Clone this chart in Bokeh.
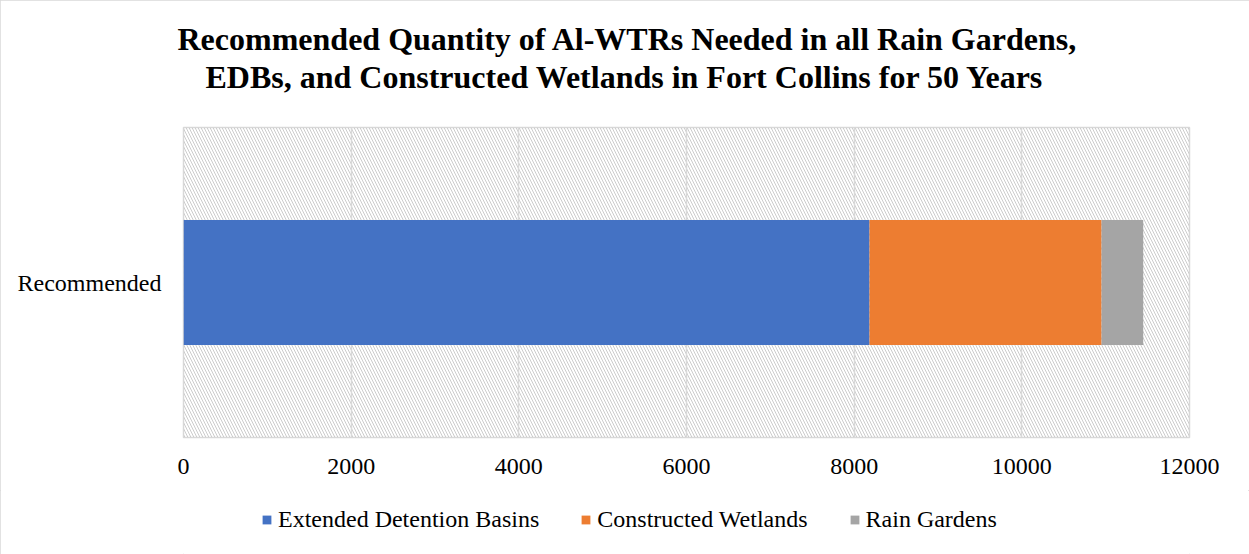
from bokeh.plotting import figure
from bokeh.layouts import column
from bokeh.models import (Range1d, FactorRange, FixedTicker, Legend, LegendItem,
                          BoxAnnotation, Title)
from bokeh.embed import file_html
from bokeh.resources import INLINE

# ---- data ----
categories = ["Recommended"]
series_names = ["Extended Detention Basins", "Constructed Wetlands", "Rain Gardens"]
edb = [8183]
wetlands = [2768]
rain_gardens = [497]
x_ticks = [0, 2000, 4000, 6000, 8000, 10000, 12000]
colors = ["#4472C4", "#ED7D31", "#A5A5A5"]
title_lines = ["Recommended Quantity of Al-WTRs Needed in all Rain Gardens,",
               "EDBs, and Constructed Wetlands in Fort Collins for 50 Years"]

SERIF = "Liberation Serif"
W, H = 1249, 554
H1 = 490                      # main chart height; legend strip below
FL, FR, FT, FB = 183, 1189, 127, 437  # frame edges in canvas px

data = dict(cat=categories, edb=edb, cw=wetlands, rg=rain_gardens)

p = figure(width=W, height=H1, output_backend="svg", toolbar_location=None, title=None,
           y_range=FactorRange(*categories), x_range=Range1d(0, 12000),
           min_border_left=FL, min_border_right=W - FR,
           min_border_top=FT, min_border_bottom=H1 - FB)
p.border_fill_color = "white"
p.background_fill_color = "white"
p.outline_line_color = "#d9d9d9"
p.outline_line_width = 1.5

# hatched plot area
hatch = BoxAnnotation(fill_alpha=0, line_alpha=0, level="image",
                      hatch_pattern="left_diagonal_line", hatch_color="#cccccc",
                      hatch_scale=6, hatch_weight=1)
p.add_layout(hatch)

rs = p.hbar_stack(["edb", "cw", "rg"], y="cat", height=0.403, color=colors,
                  line_color=None, source=data)

# grid
p.ygrid.grid_line_color = None
p.xgrid.grid_line_color = "#d9d9d9"
p.xgrid.grid_line_width = 1.5
p.xgrid.ticker = FixedTicker(ticks=x_ticks)

# axes
p.xaxis.ticker = FixedTicker(ticks=x_ticks)
for ax in (p.xaxis[0], p.yaxis[0]):
    ax.axis_line_color = None
    ax.major_tick_line_color = None
    ax.minor_tick_line_color = None
    ax.major_tick_out = 0
    ax.major_tick_in = 0
    ax.major_label_text_font = SERIF
    ax.major_label_text_font_size = "24px"
    ax.major_label_text_color = "#000000"
p.xaxis.major_label_standoff = 21
p.yaxis.major_label_standoff = 22

# title: spacer closest to frame, then line 2, then line 1
offsets = [177 - FL, 205 - FL]
p.add_layout(Title(text=" ", text_font_size="28px", standoff=0), "above")
p.add_layout(Title(text=title_lines[1], align="left", offset=offsets[1], standoff=0,
                   text_font=SERIF, text_font_style="bold", text_font_size="32px",
                   text_color="#000000"), "above")
p.add_layout(Title(text=title_lines[0], align="left", offset=offsets[0], standoff=0,
                   text_font=SERIF, text_font_style="bold", text_font_size="32px",
                   text_color="#000000"), "above")

# ---- legend strip (separate figure, same series; its frame aligns with p's) ----
H2 = H - H1
q = figure(width=W, height=H2, output_backend="svg", toolbar_location=None, title=None,
           x_axis_location=None, y_axis_location=None,
           y_range=FactorRange(*categories), x_range=Range1d(0, 12000),
           min_border_left=FL, min_border_right=W - FR,
           min_border_top=0, min_border_bottom=0)
q.outline_line_color = None
q.xgrid.visible = False
q.ygrid.visible = False
q.border_fill_color = "white"
q.background_fill_color = "white"
# zero-height bars: nothing visible in the strip, swatches come from their colours
rq = q.hbar_stack(["edb", "cw", "rg"], y="cat", height=0.0, color=colors,
                  line_color=None, source=data)
legend = Legend(items=[LegendItem(label=n, renderers=[r]) for n, r in zip(series_names, rq)],
                orientation="horizontal", location=(261 - FL, 21),
                glyph_width=11, glyph_height=11, label_standoff=6, spacing=41,
                padding=0, margin=0, border_line_color=None, background_fill_alpha=0,
                label_text_font=SERIF, label_text_font_size="24px",
                label_text_color="#000000")
q.add_layout(legend)

layout = column(p, q, spacing=0)
layout.styles = {"outline": "1px solid #d9d9d9", "outline-offset": "-1px"}

open("out.html", "w").write(file_html(layout, INLINE))
